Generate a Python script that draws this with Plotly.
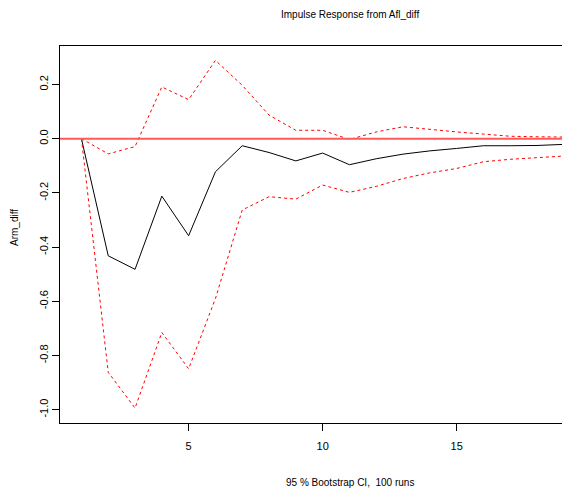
import plotly.graph_objects as go

horizon = list(range(1, 22))
response = [0.0, -0.432, -0.482, -0.212, -0.358, -0.122, -0.026, -0.051, -0.082, -0.053,
            -0.096, -0.074, -0.057, -0.045, -0.036, -0.026, -0.026, -0.025, -0.021, -0.019, -0.017]
upper = [0.0, -0.056, -0.029, 0.191, 0.144, 0.289, 0.197, 0.087, 0.031, 0.031,
         -0.003, 0.025, 0.044, 0.034, 0.025, 0.017, 0.009, 0.007, 0.006, 0.005, 0.004]
lower = [0.0, -0.862, -0.994, -0.715, -0.849, -0.590, -0.263, -0.214, -0.223, -0.171,
         -0.198, -0.176, -0.147, -0.126, -0.110, -0.085, -0.076, -0.069, -0.062, -0.058, -0.055]

xticks = [5, 10, 15, 20]
yticks = [-1.0, -0.8, -0.6, -0.4, -0.2, 0.0, 0.2]
yticklabels = ["-1.0", "-0.8", "-0.6", "-0.4", "-0.2", "0.0", "0.2"]

title = "Impulse Response from Afl_diff"
subtitle = "95 % Bootstrap CI,  100 runs"
ylabel = "Arm_diff"

font = "Liberation Sans, Arial, Helvetica, sans-serif"

fig = go.Figure()
fig.add_trace(go.Scatter(x=horizon, y=response, mode="lines",
                         line=dict(color="black", width=1), showlegend=False, hoverinfo="skip"))
fig.add_trace(go.Scatter(x=horizon, y=upper, mode="lines",
                         line=dict(color="red", width=1, dash="3px,3px"), showlegend=False, hoverinfo="skip"))
fig.add_trace(go.Scatter(x=horizon, y=lower, mode="lines",
                         line=dict(color="red", width=1, dash="3px,3px"), showlegend=False, hoverinfo="skip"))
fig.add_hline(y=0, line=dict(color="#ff5a5a", width=2), layer="above")

L, R, T, B = 60, 0, 46, 72
W, H = 562, 495
fig.update_layout(
    width=W, height=H,
    margin=dict(l=L, r=R, t=T, b=B, pad=0),
    paper_bgcolor="white", plot_bgcolor="white",
    font=dict(family=font, size=11, color="black"),
    xaxis=dict(range=[0.2, 0.2 + (W - L) / 26.8], tickvals=xticks, ticks="outside",
               ticklen=7, tickwidth=1, tickcolor="black", showgrid=False, zeroline=False,
               showline=True, linecolor="black", linewidth=1, mirror=True,
               tickfont=dict(size=11), ticklabelstandoff=6),
    yaxis=dict(range=[-1.049, 0.342], tickvals=yticks, ticktext=yticklabels, ticks="outside",
               ticklen=7, tickwidth=1, tickcolor="black", showgrid=False, zeroline=False,
               showline=True, linecolor="black", linewidth=1, mirror=False,
               tickangle=-90, tickfont=dict(size=11)),
)

plot_w = W - L - R
plot_h = H - T - B
full_right = 639.0  # R's plot region extends past the window
cx = ((L + full_right) / 2 - L) / plot_w

fig.add_annotation(text=title, xref="paper", yref="paper", x=cx, y=1 + (T - 15) / plot_h,
                   showarrow=False, font=dict(size=10), xanchor="center", yanchor="middle")
fig.add_annotation(text=subtitle, xref="paper", yref="paper", x=cx, y=-(482 - (H - B)) / plot_h,
                   showarrow=False, font=dict(size=10), xanchor="center", yanchor="middle")
fig.add_annotation(text=ylabel, xref="paper", yref="paper", x=(14 - L) / plot_w,
                   y=1 - (228 - T) / plot_h,
                   showarrow=False, font=dict(size=10), textangle=-90, xanchor="center", yanchor="middle")

fig.write_html("out.html")
